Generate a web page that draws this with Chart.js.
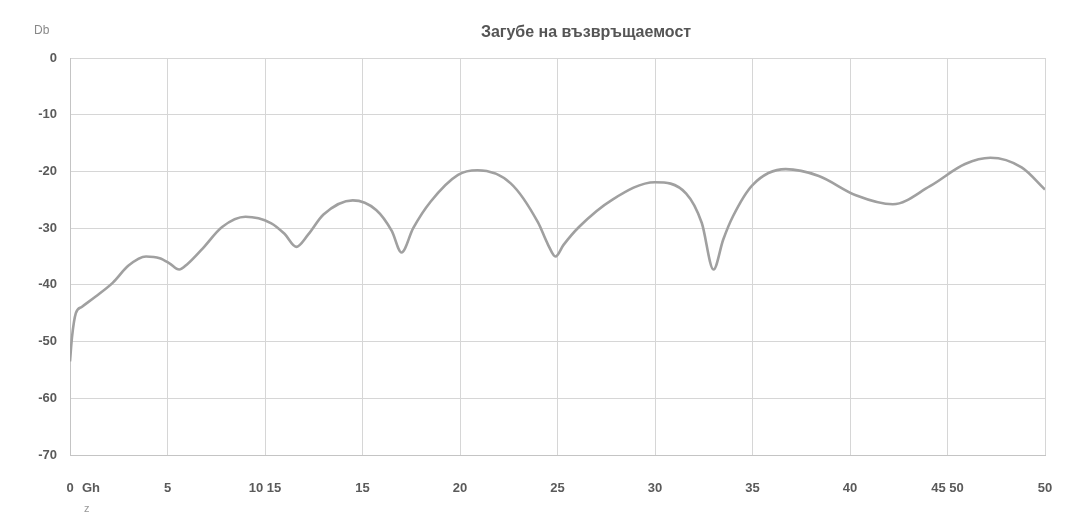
<!DOCTYPE html>
<html>
<head>
<meta charset="utf-8">
<script src="https://cdn.jsdelivr.net/npm/chart.js@4.4.1/dist/chart.umd.min.js"></script>
<style>
  html, body { margin: 0; padding: 0; background: #ffffff; }
  #wrap { width: 1080px; height: 518px; position: relative; }
</style>
</head>
<body>
<div id="wrap"><canvas id="c" width="1080" height="518"></canvas></div>
<script>
// ---- data ----
const chartTitle = 'Загубе на възвръщаемост';
const yUnit = 'Db';
const xUnitTop = 'Gh';
const xUnitBottom = 'z';
const xTickLabels = ['0', '5', '10 15', '15', '20', '25', '30', '35', '40', '45 50', '50'];
const yTickValues = [0, -10, -20, -30, -40, -50, -60, -70];

const freqGHz = [0.0, 0.1, 0.3, 0.6, 1.3, 2.2, 3.0, 3.9, 4.6, 5.1, 5.6, 6.0, 6.8, 7.8, 9.0,
  10.3, 11.0, 11.6, 12.2, 13.0, 14.5, 15.7, 16.5, 17.0, 17.6, 18.5, 19.9, 20.9,
  22.6, 24.0, 24.5, 24.9, 25.3, 26.1, 27.8, 30.0, 31.6, 32.4, 33.0, 33.5, 34.0,
  35.0, 36.7, 38.4, 40.3, 42.2, 44.1, 45.9, 47.2, 48.8, 50.0];
const returnLossDb = [-53.5, -49.3, -45.0, -43.9, -42.1, -39.6, -36.6, -35.0, -35.3, -36.2, -37.3, -36.4, -33.6, -29.8, -28.0,
  -29.1, -31.0, -33.3, -31.2, -27.6, -25.1, -26.8, -30.5, -34.3, -30.0, -25.3, -20.6, -19.8,
  -22.1, -29.0, -32.8, -35.0, -33.0, -29.8, -25.0, -21.9, -23.9, -29.1, -37.3, -32.0, -27.9,
  -22.4, -19.6, -20.8, -24.2, -25.8, -22.6, -18.7, -17.6, -19.3, -23.2];

const points = freqGHz.map((f, i) => ({ x: f, y: returnLossDb[i] }));

const textColor = '#5a5a5a';

const annotatePlugin = {
  id: 'annotate',
  afterDraw(chart) {
    const ctx = chart.ctx;
    const xs = chart.scales.x, ys = chart.scales.y;
    ctx.save();
    // title
    ctx.fillStyle = '#555';
    ctx.font = 'bold 16px "Liberation Sans", Arial, sans-serif';
    ctx.textAlign = 'center';
    ctx.textBaseline = 'middle';
    ctx.fillText(chartTitle, 586, 33);
    // y unit
    ctx.font = '12px "Liberation Sans", Arial, sans-serif';
    ctx.fillStyle = '#888';
    ctx.textAlign = 'left';
    ctx.fillText(yUnit, 34, 31);
    // x unit
    ctx.font = 'bold 13px "Liberation Sans", Arial, sans-serif';
    ctx.fillStyle = textColor;
    const x0 = xs.getPixelForValue(0);
    ctx.fillText(xUnitTop, x0 + 12, ys.bottom + 33);
    ctx.font = '11px "Liberation Sans", Arial, sans-serif';
    ctx.fillStyle = '#999';
    ctx.fillText(xUnitBottom, x0 + 14, ys.bottom + 54);
    ctx.restore();
  }
};

new Chart(document.getElementById('c'), {
  type: 'line',
  data: {
    datasets: [{
      data: points,
      borderColor: '#a0a0a0',
      borderWidth: 2.6,
      pointRadius: 0,
      fill: false,
      cubicInterpolationMode: 'monotone'
    }]
  },
  options: {
    responsive: false,
    animation: false,
    layout: { padding: { top: 58, right: 35, left: 0, bottom: 0 } },
    plugins: { legend: { display: false }, title: { display: false }, tooltip: { enabled: false } },
    scales: {
      x: {
        type: 'linear',
        min: 0, max: 50,
        afterFit(s) { s.height = 63; },
        afterBuildTicks(s) { s.ticks = xTickLabels.map((_, i) => ({ value: i * 5 })); },
        ticks: {
          autoSkip: false, maxRotation: 0, padding: 26,
          color: textColor,
          font: { family: '"Liberation Sans", Arial, sans-serif', size: 13, weight: 'bold' },
          callback: (v, i) => xTickLabels[i]
        },
        grid: { color: '#d6d6d6', lineWidth: 1, drawTicks: false },
        border: { color: '#c4c4c4' }
      },
      y: {
        min: -70, max: 0,
        afterFit(s) { s.width = 70; },
        afterBuildTicks(s) { s.ticks = yTickValues.map(v => ({ value: v })); },
        ticks: {
          padding: 13,
          color: textColor,
          font: { family: '"Liberation Sans", Arial, sans-serif', size: 13, weight: 'bold' },
          callback: v => String(v)
        },
        grid: { color: '#d6d6d6', lineWidth: 1, drawTicks: false },
        border: { color: '#c4c4c4' }
      }
    }
  },
  plugins: [annotatePlugin]
});
</script>
</body>
</html>
